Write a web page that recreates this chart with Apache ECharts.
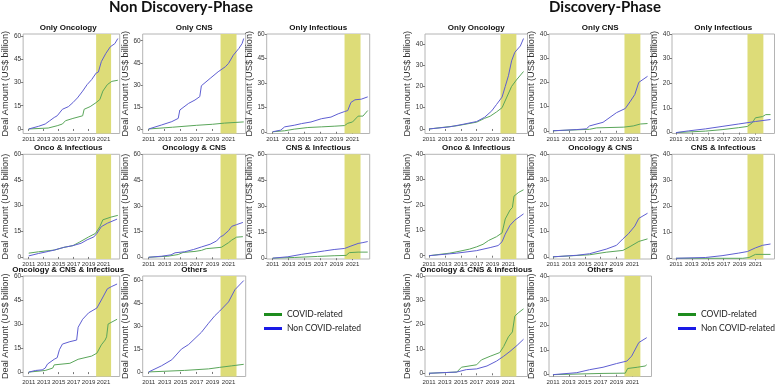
<!DOCTYPE html>
<html>
<head>
<meta charset="utf-8">
<script src="https://cdn.jsdelivr.net/npm/echarts@6/dist/echarts.min.js"></script>
<style>html,body{margin:0;padding:0;background:#fff}#main{width:778px;height:385px}</style>
</head>
<body>
<div id="main"></div>
<script>
var xTicks = [2011, 2013, 2015, 2017, 2019, 2021];
var ndYTicks = [0, 15, 30, 45, 60];
var dYTicks = [0, 10, 20, 30, 40];
var covidBand = [2020, 2022];
var plotTitles = ['Only Oncology', 'Only CNS', 'Only Infectious', 'Onco & Infectious',
  'Oncology & CNS', 'CNS & Infectious', 'Oncology & CNS & Infectious', 'Others'];

// Non Discovery-Phase, cumulative deal amount [year, US$ bn]
var ndOncCovid = [[2011,0],[2013.6,0.6],[2014.8,2.1],[2015.5,3.2],[2015.9,5.3],[2016.9,6.8],[2018.2,8.5],[2018.4,12.7],[2019.2,14.4],[2020.0,17],[2020.5,19],[2020.9,24.4],[2021.5,28.6],[2022.1,30.7],[2022.9,31.4]];
var ndOncNon = [[2011,0],[2012.3,1.7],[2013.2,3.2],[2013.8,5.3],[2014.4,7.4],[2014.8,8.5],[2015.5,12.7],[2016.3,14.4],[2016.9,17],[2017.5,20],[2018.2,24.4],[2018.8,28.6],[2019.4,31.8],[2020.0,36],[2020.3,36.7],[2020.7,43.4],[2021.3,48.7],[2021.9,53],[2022.5,55],[2022.9,58.3]];
var ndCnsCovid = [[2011,0],[2014,1.2],[2017,2.5],[2019,3.2],[2020.5,4],[2022.9,4.8]];
var ndCnsNon = [[2011,0],[2012.6,2.7],[2013.9,5],[2014.7,7.2],[2014.9,12.9],[2016.0,17.4],[2016.8,19.7],[2017.4,22],[2017.6,29.4],[2018.7,34.4],[2019.7,38.9],[2020.6,42.3],[2021.0,44.6],[2021.6,50.2],[2022.3,54.8],[2022.7,58.1],[2022.9,61.5]];
var ndInfCovid = [[2011,0],[2012.5,0.6],[2013.7,1.6],[2015.4,2.6],[2017.1,3],[2018.7,3.4],[2020.0,3.8],[2020.4,5.2],[2021.0,6],[2021.7,9.6],[2022.3,9.6],[2022.9,13]];
var ndInfNon = [[2011,0],[2012.0,1],[2012.5,3],[2013.7,4],[2014.6,5],[2015.8,6],[2017.1,8],[2018.3,9],[2019.2,11],[2020.0,12.4],[2020.4,13],[2020.8,18],[2021.3,19.6],[2022.1,20],[2022.9,21.4]];
var ndOiCovid = [[2011,2.2],[2012.3,3],[2014.4,4],[2015.7,5.6],[2016.9,6.6],[2017.8,8.7],[2019.0,11.7],[2019.9,13.7],[2020.5,17.7],[2020.9,21.7],[2022.0,23.3],[2022.9,24.3]];
var ndOiNon = [[2011,0.6],[2012.3,2],[2013.6,3.2],[2014.4,4],[2015.7,5.6],[2016.9,6.6],[2018.0,8],[2018.8,10],[2019.7,11.7],[2020.1,13.7],[2020.7,17.7],[2021.5,19.7],[2022.8,22.1]];
var ndOcCovid = [[2011,0],[2013.4,0.6],[2014.7,1.6],[2015.3,2.8],[2016.8,3.4],[2017.6,4],[2018.2,5],[2020.1,5.8],[2021.0,8.5],[2021.4,10],[2022.0,11.7],[2022.8,12]];
var ndOcNon = [[2011,0],[2012.6,0.6],[2013.8,1.4],[2014.3,2.6],[2015.5,3.2],[2016.6,4.5],[2017.6,6],[2018.7,7.6],[2019.5,9.5],[2020.0,12],[2020.3,12.6],[2021.0,15.5],[2021.4,18],[2022.0,19],[2022.8,20.3]];
var ndCiCovid = [[2011,0],[2013.7,0.4],[2016.6,1],[2018.7,1.4],[2020.2,1.6],[2020.6,3.2],[2021.7,3.5],[2022.9,3.5]];
var ndCiNon = [[2011,0],[2012.9,0.8],[2014.6,2.2],[2015.8,3],[2017.5,4.2],[2018.7,5],[2020.0,5.6],[2020.8,7],[2021.7,8.5],[2022.3,9],[2022.9,9.6]];
var ndOciCovid = [[2011,0],[2013.2,1],[2014.2,2.5],[2014.4,4.5],[2016.5,5.5],[2017.6,8],[2019.4,10],[2020.1,11.8],[2020.7,17],[2021.2,20],[2021.4,22],[2021.6,30],[2022.8,33]];
var ndOciNon = [[2011,0],[2011.9,1],[2012.8,1.4],[2013.2,2.5],[2013.5,5],[2014.4,8],[2014.8,9],[2015.1,14],[2015.5,17.5],[2016.5,19],[2017.4,20],[2017.6,28],[2018.2,33],[2019.0,37],[2020.1,40],[2020.7,45],[2021.5,52],[2022.1,53.5],[2022.8,55]];
var ndOthCovid = [[2011,0],[2015.5,1],[2018.5,2],[2019.9,3],[2021.4,4],[2022.9,5]];
var ndOthNon = [[2011,0],[2012.6,4],[2013.9,8],[2015.1,15],[2016.0,18],[2016.8,22],[2017.6,26],[2018.5,32],[2019.3,37],[2019.9,40],[2021.0,46],[2021.8,54],[2022.9,60]];

// Discovery-Phase
var dOncCovid = [[2011,0],[2014.5,1.5],[2017,3.2],[2018,5],[2018.7,6],[2019.5,8],[2020.2,10],[2020.8,15],[2021.4,20],[2022,23],[2022.9,27]];
var dOncNon = [[2011,0],[2013.6,1],[2015.3,2.2],[2017,3.5],[2018,5.5],[2018.9,8.5],[2019.5,11.5],[2020.2,15],[2020.6,20],[2021,25],[2021.4,32],[2021.8,36],[2022.5,39],[2022.9,42.5]];
var dCnsCovid = [[2011,0],[2015.6,0.6],[2016.5,1.2],[2019.9,1.5],[2021.1,2],[2022,2.8],[2022.9,3]];
var dCnsNon = [[2011,0],[2014,0.5],[2015.2,0.8],[2015.6,2],[2017.3,3.5],[2019,7.5],[2020.1,9.2],[2020.7,12],[2021.3,15],[2021.8,20],[2022.9,22.5]];
var dInfCovid = [[2011,0],[2014.7,0.6],[2016.8,1.2],[2018.9,2],[2020,2.5],[2020.6,4],[2021,6],[2021.9,6.5],[2022.3,7.3],[2022.9,7.3]];
var dInfNon = [[2011,0],[2012.6,0.7],[2014.7,1.5],[2016.8,2.5],[2018.9,3.5],[2021,4.5],[2022.9,5.3]];
var dOiCovid = [[2011,0],[2013.6,1],[2014.9,1.8],[2016.1,2.6],[2017,3.5],[2017.8,4.5],[2018.5,6],[2019.5,7.5],[2020.2,9],[2020.6,14.5],[2021.2,18],[2021.5,19],[2021.7,23.5],[2022.3,25],[2022.9,26]];
var dOiNon = [[2011,0],[2014.5,1],[2017,2],[2018.7,3.2],[2019.7,4],[2020.2,5.5],[2020.6,8.5],[2021.2,12],[2021.8,14],[2022.9,16.5]];
var dOcCovid = [[2011,0],[2015.6,0.8],[2017.7,1.8],[2019.8,2.5],[2020.7,4],[2021.8,6],[2022.9,7]];
var dOcNon = [[2011,0],[2014,0.6],[2015.6,1.2],[2017.7,3],[2019,4.5],[2019.8,7],[2020.5,9],[2021.3,12],[2021.8,15],[2022.9,17]];
var dCiCovid = [[2011,0],[2019.4,0],[2020.2,0.3],[2021,1.5],[2022.9,1.5]];
var dCiNon = [[2011,0],[2014.7,0.3],[2016.8,1],[2018.9,2],[2020,2.6],[2021,4],[2021.9,5],[2022.9,5.5]];
var dOciCovid = [[2011,0],[2014.5,0.5],[2015.1,2.5],[2017,3.5],[2017.6,5.5],[2018.7,7],[2019.9,8.5],[2020.4,11],[2021,15],[2021.5,17],[2021.8,23.5],[2022.3,25],[2022.9,26.5]];
var dOciNon = [[2011,0],[2014.5,0.5],[2015.7,1.5],[2017,1.8],[2018.3,3],[2019.5,5],[2020.4,7],[2021.2,9],[2022.1,11.5],[2022.9,14]];
var dOthCovid = [[2011,0],[2017.3,0.5],[2020.1,0.6],[2020.4,2.5],[2021.6,3],[2022.6,3.5],[2022.8,4]];
var dOthNon = [[2011,0],[2014,0.8],[2015.6,2],[2017.3,3],[2019,4.5],[2020.3,5.5],[2020.9,7.5],[2021.8,13],[2022.8,15]];

var panels = [
  {
    title: 'Non Discovery-Phase', titleX: 181,
    cols: [16.7, 142.7, 266.7], width: 103,
    xRange: [2010.25, 2023.15], yTicks: ndYTicks, yTop: 60,
    fixedTop: [false, false, true, true, true, true, true, false],
    covid: [ndOncCovid, ndCnsCovid, ndInfCovid, ndOiCovid, ndOcCovid, ndCiCovid, ndOciCovid, ndOthCovid],
    non: [ndOncNon, ndCnsNon, ndInfNon, ndOiNon, ndOcNon, ndCiNon, ndOciNon, ndOthNon],
    legendX: 259
  },
  {
    title: 'Discovery-Phase', titleX: 605,
    cols: [425, 549, 672], width: 102.5,
    xRange: [2010.5, 2023.4], yTicks: dYTicks, yTop: 40,
    fixedTop: [false, true, true, true, true, true, true, true],
    covid: [dOncCovid, dCnsCovid, dInfCovid, dOiCovid, dOcCovid, dCiCovid, dOciCovid, dOthCovid],
    non: [dOncNon, dCnsNon, dInfNon, dOiNon, dOcNon, dCiNon, dOciNon, dOthNon],
    legendX: 673
  }
];
var rowTops = [34, 154.3, 276];
var rowHeights = [99.5, 104.7, 101.5];

var grids = [], xAxes = [], yAxes = [], series = [], titles = [], legends = [];
var axisFont = 'Liberation Sans';

function maxOf(arr) {
  var m = 0;
  arr.forEach(function (p) { if (p[1] > m) m = p[1]; });
  return m;
}

panels.forEach(function (panel, p) {
  titles.push({
    text: panel.title, left: panel.titleX, top: 0, textAlign: 'center', padding: 0,
    textStyle: { fontFamily: 'Lato', fontWeight: 'bold', fontSize: 15, color: '#111' }
  });
  for (var i = 0; i < 8; i++) {
    var gi = p * 8 + i;
    var row = Math.floor(i / 3), col = i % 3;
    var left = panel.cols[col], top = rowTops[row];
    var dmax = Math.max(maxOf(panel.covid[i]), maxOf(panel.non[i]));
    var yMax = panel.fixedTop[i] ? panel.yTop : dmax * 1.05;
    grids.push({
      left: left, top: top, width: panel.width, height: rowHeights[row],
      show: true, borderColor: '#b4b4b4', borderWidth: 1, backgroundColor: '#fff'
    });
    titles.push({
      text: plotTitles[i], left: left + panel.width / 2, top: top - 10.5,
      textAlign: 'center', padding: 0,
      textStyle: { fontFamily: axisFont, fontWeight: 'bold', fontSize: 8, color: '#111' }
    });
    xAxes.push({
      type: 'value', gridIndex: gi, min: panel.xRange[0], max: panel.xRange[1],
      axisLine: { show: false },
      splitLine: { show: false },
      axisTick: { show: true, customValues: xTicks, length: 2, lineStyle: { color: '#777' } },
      axisLabel: {
        customValues: xTicks, fontSize: 6.1, margin: 2.5, color: '#333', fontFamily: axisFont,
        hideOverlap: false,
        formatter: function (v) { return String(v); }
      }
    });
    yAxes.push({
      type: 'value', gridIndex: gi, min: -0.05 * dmax, max: yMax,
      name: 'Deal Amount (US$ billion)', nameLocation: 'middle', nameRotate: 90, nameGap: 10,
      nameTextStyle: { fontFamily: axisFont, fontSize: 9.2, color: '#333' },
      axisLine: { show: false },
      splitLine: { show: false },
      axisTick: { show: true, customValues: panel.yTicks, length: 2, lineStyle: { color: '#777' } },
      axisLabel: {
        customValues: panel.yTicks, fontSize: 6.5, margin: 2, color: '#333', fontFamily: axisFont,
        formatter: function (v) { return String(v); }
      }
    });
    series.push({
      type: 'line', xAxisIndex: gi, yAxisIndex: gi, data: [], z: 1, silent: true,
      markArea: {
        silent: true,
        itemStyle: { color: '#dddc78' },
        data: [[{ xAxis: covidBand[0] }, { xAxis: covidBand[1] }]]
      }
    });
    series.push({
      name: 'COVID-related', type: 'line', xAxisIndex: gi, yAxisIndex: gi,
      data: panel.covid[i], symbol: 'none', z: 3,
      itemStyle: { color: '#5aa65a' }, lineStyle: { color: '#5aa65a', width: 1 }
    });
    series.push({
      name: 'Non COVID-related', type: 'line', xAxisIndex: gi, yAxisIndex: gi,
      data: panel.non[i], symbol: 'none', z: 4,
      itemStyle: { color: '#5e5ed2' }, lineStyle: { color: '#5e5ed2', width: 1 }
    });
  }
  legends.push({
    left: panel.legendX, top: 305, orient: 'vertical', icon: 'rect',
    itemWidth: 18, itemHeight: 3, itemGap: 5,
    textStyle: { fontFamily: 'Lato', fontSize: 8.5, color: '#222' },
    data: [
      { name: 'COVID-related', itemStyle: { color: '#1e8c1e' } },
      { name: 'Non COVID-related', itemStyle: { color: '#1a1ae6' } }
    ]
  });
});

var chart = echarts.init(document.getElementById('main'), null, { renderer: 'canvas' });
chart.setOption({
  animation: false,
  backgroundColor: '#fff',
  title: titles,
  legend: legends,
  grid: grids,
  xAxis: xAxes,
  yAxis: yAxes,
  series: series
});
window.addEventListener('resize', function () { chart.resize(); });
</script>
</body>
</html>
